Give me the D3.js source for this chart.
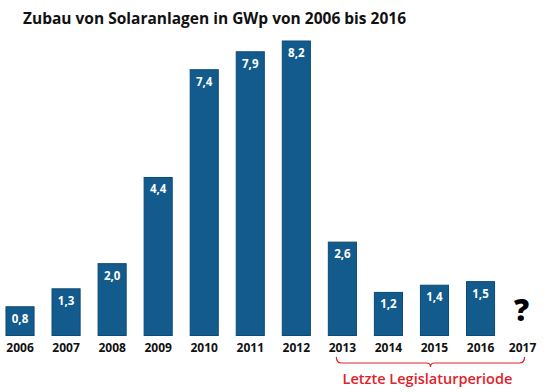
<!DOCTYPE html>
<html><head><meta charset="utf-8">
<script src="https://cdn.jsdelivr.net/npm/d3@7"></script>
<style>body{margin:0;background:#fff}svg{display:block}text{font-family:"Open Sans",sans-serif}</style>
</head><body>
<script>
const years = ["2006","2007","2008","2009","2010","2011","2012","2013","2014","2015","2016","2017"];
const values = [0.8,1.3,2.0,4.4,7.4,7.9,8.2,2.6,1.2,1.4,1.5,null];
const valueLabels = ["0,8","1,3","2,0","4,4","7,4","7,9","8,2","2,6","1,2","1,4","1,5","?"];
const title = "Zubau von Solaranlagen in GWp von 2006 bis 2016";
const periodLabel = "Letzte Legislaturperiode";
const periodYears = ["2013","2017"];

const W=550,H=392;
const svg=d3.select("body").append("svg").attr("width",W).attr("height",H);
const x=d3.scaleBand().domain(years).range([-3,549.6]).paddingInner(0.39).paddingOuter(0.195);
const y=d3.scaleLinear().domain([0,8.2]).range([335.5,41]);

svg.append("text").attr("x",23).attr("y",24).attr("font-size",16.5).attr("font-weight",700).attr("fill","#111")
  .attr("textLength",383).attr("lengthAdjust","spacingAndGlyphs").text(title);

const data=years.map((yr,i)=>({yr,v:values[i],lab:valueLabels[i]}));
const bars=data.filter(d=>d.v!=null);
svg.selectAll("rect.bar").data(bars).join("rect").attr("class","bar")
  .attr("x",d=>x(d.yr)).attr("width",x.bandwidth())
  .attr("y",d=>y(d.v)).attr("height",d=>y(0)-y(d.v))
  .attr("fill","#125b8c").attr("stroke","#0b4a76").attr("stroke-width",1);
svg.selectAll("text.val").data(bars).join("text").attr("class","val")
  .attr("x",d=>x(d.yr)+x.bandwidth()/2).attr("y",d=>y(d.v)+16)
  .attr("text-anchor","middle").attr("font-size",11.5).attr("font-weight",700).attr("fill","#fff").text(d=>d.lab);
const q=data.filter(d=>d.v==null);
svg.selectAll("text.q").data(q).join("text").attr("class","q")
  .attr("x",d=>x(d.yr)+x.bandwidth()/2-5).attr("y",321)
  .attr("text-anchor","middle").attr("font-size",30).attr("font-weight",800).attr("fill","#000").text(d=>d.lab);

const xAxis=d3.axisBottom(x).tickSize(0).tickPadding(0);
const ax=svg.append("g").attr("transform","translate(0,343)").call(xAxis);
ax.select(".domain").remove();
ax.selectAll("text").attr("font-size",12).attr("font-weight",700).attr("fill","#111").attr("font-family","Open Sans, sans-serif").attr("dy","0.71em");
ax.selectAll(".tick").filter(d=>d==="2017").attr("transform",`translate(${x("2017")+x.bandwidth()/2-4},0)`);

// bracket
const x1=x(periodYears[0])+x.bandwidth()/2-6, x2=x(periodYears[1])+x.bandwidth()/2-2;
const xm=(x1+x2)/2, yb=363;
svg.append("path").attr("fill","none").attr("stroke","#e0222a").attr("stroke-width",1.2)
  .attr("d",`M${x1},357 Q${x1},${yb} ${x1+5},${yb} L${xm-4},${yb} Q${xm},${yb} ${xm},${yb+4} Q${xm},${yb} ${xm+4},${yb} L${x2-5},${yb} Q${x2},${yb} ${x2},357`);
svg.append("text").attr("x",xm-3).attr("y",384).attr("text-anchor","middle").attr("font-size",14.5).attr("font-weight",600).attr("fill","#e0222a").text(periodLabel);
</script>
</body></html>
